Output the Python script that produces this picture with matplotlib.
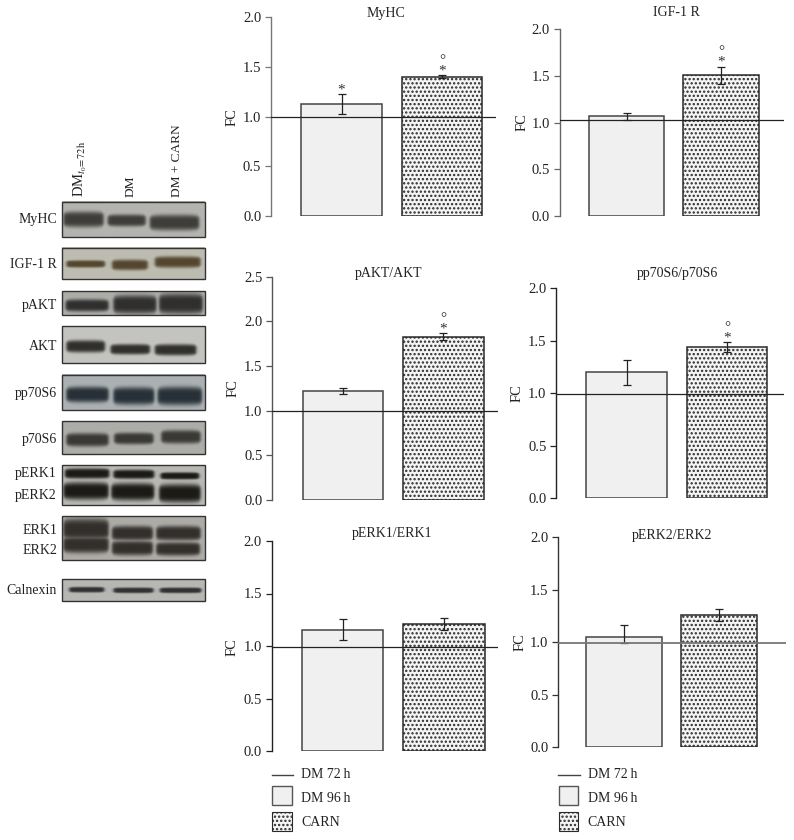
import numpy as np
import matplotlib
matplotlib.use("Agg")
import matplotlib.pyplot as plt
from matplotlib.patches import Rectangle

plt.rcParams['font.family'] = ['Liberation Serif', 'DejaVu Serif']
plt.rcParams['mathtext.fontset'] = 'stix'
plt.rcParams['hatch.linewidth'] = 1.1

W, H = 794, 840

# --- Bar chart data
titles = ["MyHC", "IGF-1 R", "pAKT/AKT", "pp70S6/p70S6", "pERK1/ERK1", "pERK2/ERK2"]
dm96_values = [1.125, 1.07, 1.22, 1.20, 1.155, 1.05]
carn_values = [1.40, 1.505, 1.83, 1.44, 1.21, 1.26]
dm96_err_low = [1.03, 1.03, 1.19, 1.08, 1.055, 0.99]
dm96_err_high = [1.225, 1.105, 1.25, 1.32, 1.255, 1.16]
carn_err_low = [1.385, 1.41, 1.795, 1.39, 1.15, 1.20]
carn_err_high = [1.415, 1.60, 1.865, 1.485, 1.27, 1.32]
dm72_values = [0.992, 1.024, 0.996, 0.992, 0.993, 0.995]
dm96_marks = ["*", "", "", "", "", ""]
carn_marks = ["°\n*", "°\n*", "°\n*", "°\n*", "", ""]
y_max = [2.0, 2.0, 2.5, 2.0, 2.0, 2.0]
legend_labels = ["DM 72\u2009h", "DM 96\u2009h", "CARN"]

# --- Panel layout in pixels
panel_axis_x = [271, 559.7, 272.3, 556.3, 271.7, 558.3]
panel_line_end = [496, 784, 497.7, 784.3, 497.7, 785.7]
panel_top = [16.7, 29.3, 276.7, 288.3, 541, 537.3]
panel_bottom = [216.3, 215.7, 500, 498, 751, 747]
bar1_edges = [(301.3, 381.7), (588.7, 664.3), (302.7, 383), (586.3, 666.7), (302, 383.3), (586.3, 662.3)]
bar2_edges = [(401.7, 482), (683.3, 759.3), (403, 483.7), (686.7, 767), (403.3, 484.7), (681.3, 757)]
title_xy = [(386, 13), (676.7, 13), (389, 273), (677.7, 274), (392, 534), (672.3, 536)]
fc_xy = [(232, 117), (521.7, 121.7), (233, 388), (517, 393), (232, 646.7), (520, 642)]
spine_colors = ["#777777", "#666666", "#555555", "#222222", "#222222", "#333333"]

# --- Western blot bands: (x0, x1, y centre, half height) as fractions of the blot
blot_boxes = [(201.7, 237.3), (248, 279.3), (291.3, 314.7), (326.3, 363), (375, 410.3),
              (421, 453.7), (465, 505), (516.3, 560), (578.7, 600.7)]
blot_bg = ["#b4b4b0", "#bebdb2", "#adada9", "#c4c4c0", "#acb1b3", "#adaea9", "#b9b9b4", "#adaca7", "#b7b7b3"]
blot_ink = ["#3f3d39", "#54462e", "#302f2d", "#302f2d", "#263036", "#3a3835", "#1c1a17", "#322e2b", "#2e3031"]
blot_bands = [
    [(.01, .29, .51, .17), (.32, .585, .54, .13), (.615, .96, .60, .17)],
    [(.03, .30, .53, .09), (.35, .60, .56, .13), (.65, .97, .47, .14)],
    [(.025, .325, .60, .20), (.36, .66, .56, .30), (.68, .985, .53, .33)],
    [(.03, .30, .55, .13), (.34, .615, .63, .11), (.65, .94, .645, .12)],
    [(.03, .325, .57, .17), (.36, .645, .61, .19), (.67, .98, .61, .20)],
    [(.03, .325, .57, .16), (.365, .64, .53, .14), (.695, .97, .48, .16)],
    [(.02, .33, .21, .10), (.36, .645, .23, .09), (.69, .96, .27, .07),
     (.01, .325, .65, .17), (.345, .645, .67, .17), (.68, .97, .71, .18)],
    [(.01, .325, .30, .19), (.35, .635, .39, .13), (.66, .97, .39, .13),
     (.01, .325, .65, .15), (.35, .635, .73, .13), (.66, .965, .75, .12)],
    [(.05, .295, .485, .10), (.36, .64, .515, .10), (.685, .975, .515, .10)],
]
blot_labels = ["MyHC", "IGF-1 R", "pAKT", "AKT", "pp70S6", "p70S6", "pERK1", "pERK2", "ERK1", "ERK2", "Calnexin"]
blot_label_y = [219, 265, 306, 347, 394, 440, 474, 495, 530, 550, 590]
lane_labels = [r"DM$_{t_0\!=\!72\,\mathrm{h}}$", "DM", "DM + CARN"]
lane_label_x = [80, 131, 177]


def blot_image(bands, bg, ink, w=143, h=40):
    bg = np.array(matplotlib.colors.to_rgb(bg))
    ink = np.array(matplotlib.colors.to_rgb(ink))
    xx, yy = np.meshgrid(np.linspace(0, 1, w * 3), np.linspace(0, 1, h * 3))
    amount = np.zeros_like(xx)
    for x0, x1, yc, hh in bands:
        across = 0.5 * (np.tanh((xx - x0) / 0.012) - np.tanh((xx - x1) / 0.012))
        # bands get thinner towards the lane ends
        mid = (x0 + x1) / 2
        half = (x1 - x0) / 2
        thick = 1.3 * hh * (0.75 + 0.25 * np.sqrt(np.clip(1 - ((xx - mid) / half) ** 4, 0, 1)))
        down = np.exp(-np.abs((yy - yc) / thick) ** 4)
        amount = np.maximum(amount, across * down)
    return bg + (ink - bg) * amount[..., None]


fig = plt.figure(figsize=(W / 100, H / 100), dpi=100)

# --- Bar panels
for i, title in enumerate(titles):
    left = panel_axis_x[i]
    right = panel_line_end[i]
    top = panel_top[i]
    bottom = panel_bottom[i]
    ax = fig.add_axes([left / W, 1 - bottom / H, (right - left) / W, (bottom - top) / H])

    c1 = sum(bar1_edges[i]) / 2
    c2 = sum(bar2_edges[i]) / 2
    step = c2 - c1
    bar_w1 = (bar1_edges[i][1] - bar1_edges[i][0]) / step
    bar_w2 = (bar2_edges[i][1] - bar2_edges[i][0]) / step

    ax.bar(0, dm96_values[i], bar_w1, color="#f0f0f0", edgecolor="#444444", linewidth=1.1, zorder=2)
    ax.bar(1, carn_values[i], bar_w2, color="#f4f4f4", edgecolor="#2a2a2a", linewidth=1.1,
           hatch="....", zorder=2)
    ax.errorbar(0, dm96_values[i],
                yerr=[[dm96_values[i] - dm96_err_low[i]], [dm96_err_high[i] - dm96_values[i]]],
                color="#222222", elinewidth=0.9, capsize=2.7, capthick=0.9, zorder=3)
    ax.errorbar(1, carn_values[i],
                yerr=[[carn_values[i] - carn_err_low[i]], [carn_err_high[i] - carn_values[i]]],
                color="#222222", elinewidth=0.9, capsize=2.7, capthick=0.9, zorder=3)
    ax.axhline(dm72_values[i], color="#777777" if i == 5 else "#222222",
               linewidth=1.3 if i == 5 else 0.9, zorder=4)

    if dm96_marks[i]:
        ax.annotate(dm96_marks[i], (0, dm96_err_high[i]), xytext=(0, 0), textcoords="offset points",
                    ha="center", va="baseline", fontsize=11, color="#333333")
    if carn_marks[i]:
        ax.annotate(carn_marks[i], (1, carn_err_high[i]), xytext=(0, 0.6), textcoords="offset points",
                    ha="center", va="baseline", fontsize=11, color="#333333", linespacing=0.75)

    ax.set_xlim((left - c1) / step, (right - c1) / step)
    ax.set_ylim(0, y_max[i])
    ax.set_yticks(np.arange(0, y_max[i] + 0.01, 0.5))
    ax.set_yticklabels([f"{t:.1f}" for t in np.arange(0, y_max[i] + 0.01, 0.5)], fontsize=10.5, color="#222222")
    ax.set_xticks([])
    ax.patch.set_alpha(0)
    for side in ["top", "right", "bottom"]:
        ax.spines[side].set_visible(False)
    ax.spines["left"].set_color(spine_colors[i])
    ax.spines["left"].set_linewidth(1.0)
    ax.tick_params(axis="y", length=4, width=0.9, color=spine_colors[i], pad=3)

# --- Overlay in pixel coordinates: blots, labels, legends
over = fig.add_axes([0, 0, 1, 1], zorder=5)
over.patch.set_alpha(0)
for (y0, y1), bands, bg, ink in zip(blot_boxes, blot_bands, blot_bg, blot_ink):
    over.imshow(blot_image(bands, bg, ink), extent=(62, 205, y1, y0), aspect="auto", interpolation="bilinear")
    over.add_patch(Rectangle((62, y0), 143, y1 - y0, fill=False, edgecolor="#333333", linewidth=1.0))

for label, y in zip(blot_labels, blot_label_y):
    over.text(57, y, label, ha="right", va="center", fontsize=10, color="#222222")
for label, x, size in zip(lane_labels, lane_label_x, [10.5, 9.6, 9.6]):
    over.text(x, 197, label, rotation=90, ha="center", va="bottom", fontsize=size, color="#222222")

for title, (x, y) in zip(titles, title_xy):
    over.text(x, y, title, ha="center", va="center", fontsize=10, color="#222222")
for (x, y) in fc_xy:
    over.text(x, y, "FC", rotation=90, ha="center", va="center", fontsize=10.5, color="#222222")

# --- Legends
for line_x, box_x, text_x in [(271.7, 272, 301), (558.3, 558.7, 587.7)]:
    over.plot([line_x, line_x + 21.6], [775, 775], color="#444444", linewidth=1.0)
    over.add_patch(Rectangle((box_x, 786), 19.5, 19.3, facecolor="#f0f0f0", edgecolor="#555555", linewidth=1.0))
    over.add_patch(Rectangle((box_x, 812.3), 19.5, 18.7, facecolor="#f4f4f4", edgecolor="#2a2a2a",
                             linewidth=0.8, hatch="...."))
    for label, y in zip(legend_labels, [775, 799, 822]):
        over.text(text_x, y, label, ha="left", va="center", fontsize=10, color="#222222")

over.set_xlim(0, W)
over.set_ylim(H, 0)
over.axis("off")

fig.savefig("out.png", dpi=100)
plt.close(fig)
